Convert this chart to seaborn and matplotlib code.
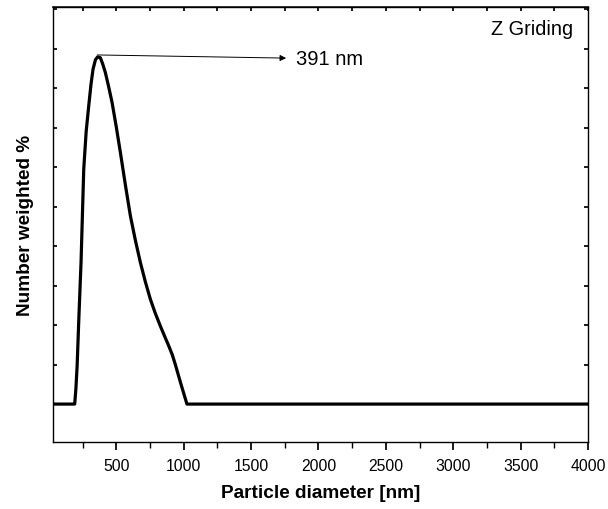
import matplotlib
matplotlib.use("Agg")
import matplotlib.pyplot as plt
import seaborn as sns
import pandas as pd
from matplotlib.ticker import MultipleLocator, NullFormatter

# particle size distribution
diameter = [33, 191, 200, 209, 222, 238, 258, 276, 295, 312, 327, 345, 361,
            381, 398, 418, 442, 468, 498, 530, 567, 604, 641, 678, 715, 752,
            789, 826, 858, 888, 915, 937, 980, 1024, 4000]
number_pct = [0, 0, 0.4, 0.97, 2.2, 3.59, 5.95, 6.9, 7.55, 8.1, 8.48, 8.72,
              8.79, 8.77, 8.62, 8.4, 8.05, 7.64, 7.05, 6.37, 5.55, 4.77, 4.15,
              3.59, 3.1, 2.66, 2.3, 1.98, 1.72, 1.48, 1.25, 1.01, 0.5, 0, 0]
peak_label = "391 nm"
sample_name = "Z Griding"

df = pd.DataFrame({"d": diameter, "n": number_pct})

sns.set_theme(style="ticks", rc={"text.color": "black", "axes.labelcolor": "black",
                                 "xtick.color": "black", "ytick.color": "black"})
plt.rcParams['font.family'] = ['Liberation Sans', 'DejaVu Sans']

fig = plt.figure(figsize=(6.08, 5.1), dpi=100)
ax = fig.add_axes([0.0872, 0.1314, 0.8798, 0.8526])

sns.lineplot(data=df, x="d", y="n", color="black", linewidth=2.3, ax=ax)

ax.set_xlim(30, 4000)
ax.set_ylim(-0.96, 10.05)
ax.xaxis.set_major_locator(MultipleLocator(500))
ax.xaxis.set_minor_locator(MultipleLocator(250))
ax.yaxis.set_major_locator(MultipleLocator(1))
ax.yaxis.set_major_formatter(NullFormatter())
ax.tick_params(axis="x", which="both", direction="out", top=False, labelsize=11.3, pad=5.5)
ax.tick_params(axis="x", which="major", length=6)
ax.tick_params(axis="x", which="minor", length=4)
ax.tick_params(axis="y", which="both", direction="in", left=True, right=True, length=3)
sec = ax.secondary_xaxis("top")
sec.xaxis.set_major_locator(MultipleLocator(250))
sec.tick_params(direction="in", length=3, labeltop=False)
for s in ax.spines.values():
    s.set_linewidth(1.0)
    s.set_color("black")

ax.set_xlabel("Particle diameter [nm]", fontsize=13.7, fontweight="bold", labelpad=8)
ax.set_ylabel("Number weighted %", fontsize=13.7, fontweight="bold", labelpad=10.5)

ax.annotate("", xy=(1760, 8.76), xytext=(359, 8.84),
            arrowprops=dict(arrowstyle="-|>", color="black", lw=0.7,
                            mutation_scale=9, shrinkA=0, shrinkB=0))
ax.text(1830, 8.74, peak_label, fontsize=14.5, va="center", ha="left")
ax.text(0.973, 0.972, sample_name, transform=ax.transAxes, fontsize=14.3,
        ha="right", va="top")

fig.savefig("out.png", dpi=100)
